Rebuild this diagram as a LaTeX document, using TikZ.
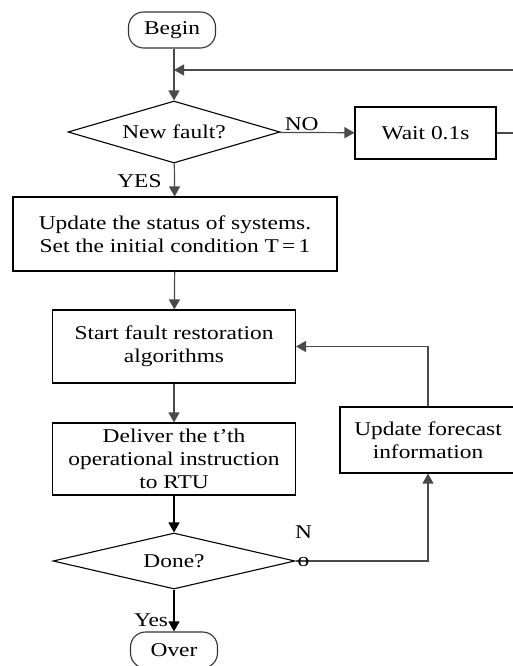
\documentclass[tikz,border=0pt]{standalone}
\usepackage{fontspec}
\setmainfont[FakeStretch=1.2]{Liberation Serif}
\usetikzlibrary{shapes.geometric,arrows.meta}
\definecolor{linegray}{HTML}{4A4A4A}
\begin{document}
\begin{tikzpicture}[x=1pt,y=-1pt,
    font=\fontsize{19.5}{23}\selectfont,
    flow/.style={draw=linegray, line width=1.2pt, -{Triangle[length=10pt,width=11pt]}},
    box/.style={draw, line width=1.1pt, align=center, inner sep=0pt},
    term/.style={box, draw=black!80, rounded corners=15pt, minimum width=87pt, minimum height=36pt},
    test/.style={diamond, draw, line width=1.1pt, inner sep=0pt, aspect=4}]
  \useasboundingbox (0,0) rectangle (512,666);
  \node[term] (begin) at (172,30) {Begin};
  \node[test, minimum width=212pt, minimum height=62pt] (fault) at (174,132) {New fault?};
  \node[box, minimum width=141pt, minimum height=52pt] (wait) at (425.5,133) {Wait 0.1s};
  \node[box, minimum width=324pt, minimum height=74pt] (status) at (175,234)
    {Update the status of systems.\\Set the initial condition T\,=\,1};
  \node[box, minimum width=243pt, minimum height=73pt] (start) at (174,346.5)
    {Start fault restoration\\algorithms};
  \node[box, minimum width=243pt, minimum height=72pt] (deliver) at (174,459)
    {Deliver the t’th\\operational instruction\\to RTU};
  \node[box, minimum width=176pt, minimum height=66pt] (forecast) at (428,440)
    {Update forecast\\information};
  \node[test, minimum width=242pt, minimum height=56pt] (done) at (174,561) {Done?};
  \node[term] (over) at (174,650) {Over};
  \coordinate (loop) at (174,70);

  \draw[flow] (begin.south -| loop) -- (fault);
  \draw[flow] (fault) -- node[above, pos=0.3, yshift=-2pt] {NO} (wait);
  \draw[flow] (wait.east) -- ++(30,0) |- (loop);
  \draw[flow] (fault) -- node[left, pos=0.55, xshift=-9pt] {YES} (status);
  \draw[flow] (status) -- (start);
  \draw[flow] (start) -- (deliver);
  \draw[flow, draw=black] (deliver) -- (done);
  \draw[flow, draw=black] (done) -- node[left, pos=0.72, xshift=-2pt] {Yes} (over);
  \draw[flow] (done.east) -| (forecast.south);
  \draw[flow] (forecast.north) |- (start.east);
  \node[align=center, anchor=south, inner sep=0pt] (no) at ([xshift=8pt, yshift=-6pt]done.east)
    {N\\[5pt]o};
\end{tikzpicture}
\end{document}
